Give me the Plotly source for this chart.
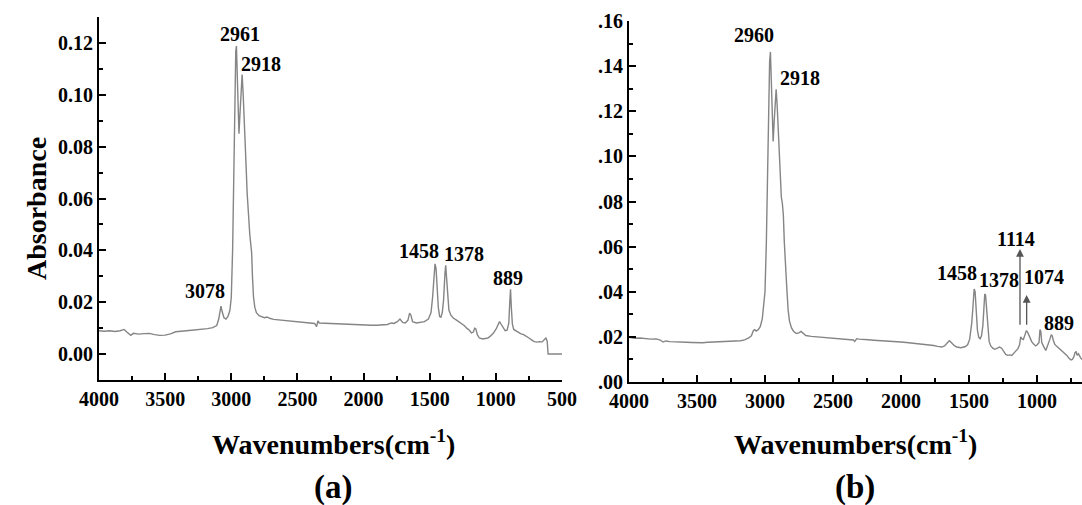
import plotly.graph_objects as go

# ---------------- data: panel (a) ----------------
wn_a = [4000, 3960, 3920, 3880, 3840, 3810, 3790, 3760, 3740, 3700, 3660, 3620, 3580, 3540, 3500,
        3460, 3420, 3380, 3340, 3300, 3260, 3220, 3180, 3140, 3110, 3095, 3085, 3078, 3070, 3055,
        3040, 3025, 3010, 3000, 2990, 2980, 2972, 2966, 2961, 2955, 2948, 2942, 2935, 2926, 2918,
        2910, 2900, 2890, 2880, 2870, 2860, 2852, 2846, 2840, 2832, 2822, 2810, 2790, 2770, 2750,
        2730, 2710, 2680, 2640, 2600, 2560, 2520, 2480, 2440, 2400, 2370, 2355, 2345, 2335, 2300,
        2260, 2220, 2180, 2140, 2100, 2060, 2020, 1980, 1940, 1900, 1860, 1820, 1790, 1770, 1745,
        1725, 1705, 1685, 1665, 1652, 1642, 1630, 1600, 1570, 1540, 1510, 1490, 1478, 1468, 1460,
        1452, 1445, 1435, 1425, 1415, 1405, 1395, 1385, 1379, 1372, 1364, 1355, 1340, 1320, 1300,
        1280, 1260, 1240, 1220, 1200, 1185, 1170, 1160, 1152, 1140, 1125, 1100, 1080, 1060, 1040,
        1020, 1000, 985, 972, 960, 945, 930, 915, 902, 895, 889, 883, 875, 865, 850,
        830, 810, 790, 770, 750, 730, 710, 690, 670, 650, 635, 622, 612, 605, 500]
abs_a = [0.0090, 0.0088, 0.0090, 0.0087, 0.0090, 0.0095, 0.0085, 0.0072, 0.0080, 0.0077, 0.0079, 0.0080, 0.0075, 0.0072, 0.0073,
         0.0078, 0.0086, 0.0089, 0.0090, 0.0092, 0.0094, 0.0095, 0.0098, 0.0102, 0.0110, 0.0135, 0.0175, 0.0185, 0.0165, 0.0140,
         0.0135, 0.0145, 0.0170, 0.0220, 0.0400, 0.0750, 0.1050, 0.1170, 0.1188, 0.1050, 0.0900, 0.0850, 0.0920, 0.1040, 0.1078,
         0.1000, 0.0900, 0.0750, 0.0620, 0.0520, 0.0460, 0.0420, 0.0390, 0.0300, 0.0220, 0.0180, 0.0160, 0.0148, 0.0143, 0.0140,
         0.0143, 0.0138, 0.0134, 0.0132, 0.0130, 0.0128, 0.0126, 0.0124, 0.0123, 0.0121, 0.0118, 0.0106, 0.0128, 0.0120, 0.0119,
         0.0118, 0.0119, 0.0118, 0.0117, 0.0115, 0.0114, 0.0113, 0.0112, 0.0111, 0.0111, 0.0112, 0.0114, 0.0120, 0.0118, 0.0125,
         0.0135, 0.0122, 0.0120, 0.0130, 0.0158, 0.0150, 0.0125, 0.0120, 0.0122, 0.0125, 0.0135, 0.0160, 0.0220, 0.0300, 0.0348,
         0.0330, 0.0250, 0.0180, 0.0145, 0.0142, 0.0160, 0.0210, 0.0310, 0.0342, 0.0290, 0.0210, 0.0170, 0.0150, 0.0138, 0.0132,
         0.0125, 0.0118, 0.0110, 0.0100, 0.0092, 0.0082, 0.0085, 0.0100, 0.0098, 0.0075, 0.0062, 0.0058, 0.0060, 0.0062, 0.0070,
         0.0080, 0.0095, 0.0115, 0.0125, 0.0115, 0.0100, 0.0090, 0.0092, 0.0120, 0.0200, 0.0250, 0.0180, 0.0115, 0.0095, 0.0090,
         0.0085, 0.0078, 0.0075, 0.0070, 0.0062, 0.0055, 0.0048, 0.0046, 0.0048, 0.0047, 0.0055, 0.0062, 0.0050, 0.0000, 0.0000]

# ---------------- data: panel (b) ----------------
wn_b = [4000, 3960, 3920, 3880, 3840, 3800, 3770, 3750, 3730, 3700, 3660, 3620, 3580, 3540, 3500,
        3460, 3420, 3380, 3340, 3300, 3260, 3220, 3180, 3150, 3120, 3100, 3085, 3075, 3065, 3050,
        3035, 3020, 3010, 3000, 2990, 2980, 2972, 2966, 2960, 2954, 2947, 2940, 2933, 2925, 2918,
        2910, 2900, 2890, 2880, 2872, 2865, 2858, 2852, 2846, 2840, 2830, 2820, 2805, 2790, 2770,
        2750, 2735, 2720, 2700, 2660, 2620, 2580, 2540, 2500, 2460, 2420, 2380, 2350, 2340, 2325,
        2310, 2280, 2240, 2200, 2160, 2120, 2080, 2040, 2000, 1960, 1920, 1880, 1840, 1800, 1760,
        1730, 1700, 1680, 1660, 1645, 1630, 1610, 1590, 1560, 1530, 1510, 1495, 1480, 1470, 1462,
        1455, 1447, 1438, 1428, 1418, 1408, 1398, 1390, 1384, 1378, 1370, 1362, 1352, 1340, 1325,
        1310, 1290, 1275, 1260, 1245, 1230, 1215, 1200, 1185, 1170, 1155, 1140, 1128, 1120, 1112,
        1100, 1088, 1078, 1068, 1055, 1040, 1025, 1010, 998, 985, 978, 972, 965, 955, 945,
        935, 925, 915, 905, 895, 888, 880, 870, 855, 840, 820, 800, 780, 765, 750,
        740, 730, 720, 712, 705, 695, 680, 669]
abs_b = [0.0198, 0.0194, 0.0195, 0.0192, 0.0190, 0.0191, 0.0186, 0.0177, 0.0182, 0.0179, 0.0177, 0.0178, 0.0176, 0.0175, 0.0174,
         0.0174, 0.0176, 0.0177, 0.0178, 0.0178, 0.0179, 0.0180, 0.0183, 0.0187, 0.0195, 0.0205, 0.0228, 0.0232, 0.0226, 0.0232,
         0.0245, 0.0280, 0.0330, 0.0400, 0.0620, 0.0950, 0.1250, 0.1420, 0.1463, 0.1300, 0.1120, 0.1066, 0.1150, 0.1260, 0.1297,
         0.1220, 0.1080, 0.0920, 0.0820, 0.0790, 0.0740, 0.0620, 0.0540, 0.0520, 0.0420, 0.0320, 0.0270, 0.0240, 0.0225, 0.0215,
         0.0218, 0.0224, 0.0215, 0.0206, 0.0202, 0.0200, 0.0198, 0.0196, 0.0195, 0.0193, 0.0191, 0.0189, 0.0186, 0.0180, 0.0192,
         0.0190, 0.0190, 0.0187, 0.0185, 0.0184, 0.0182, 0.0180, 0.0179, 0.0177, 0.0175, 0.0173, 0.0171, 0.0168, 0.0165, 0.0162,
         0.0158, 0.0155, 0.0160, 0.0172, 0.0183, 0.0175, 0.0162, 0.0155, 0.0152, 0.0156, 0.0165, 0.0190, 0.0260, 0.0340, 0.0412,
         0.0400, 0.0310, 0.0230, 0.0198, 0.0192, 0.0205, 0.0250, 0.0330, 0.0390, 0.0385, 0.0310, 0.0230, 0.0180, 0.0160, 0.0150,
         0.0145, 0.0150, 0.0155, 0.0150, 0.0138, 0.0122, 0.0118, 0.0120, 0.0118, 0.0128, 0.0142, 0.0148, 0.0165, 0.0200, 0.0192,
         0.0188, 0.0210, 0.0228, 0.0220, 0.0200, 0.0180, 0.0168, 0.0160, 0.0165, 0.0175, 0.0232, 0.0225, 0.0175, 0.0160, 0.0150,
         0.0140, 0.0155, 0.0170, 0.0190, 0.0210, 0.0205, 0.0185, 0.0168, 0.0158, 0.0150, 0.0140, 0.0130, 0.0118, 0.0105, 0.0098,
         0.0100, 0.0110, 0.0130, 0.0135, 0.0118, 0.0125, 0.0108, 0.0100]

# ---------------- peak labels ----------------
labels_a = ["2961", "2918", "3078", "1458", "1378", "889"]
label_a_x = [2937, 2776, 3198, 1584, 1242, 911]
label_a_y = [0.1236, 0.1120, 0.0245, 0.0399, 0.0386, 0.0292]

labels_b = ["2960", "2918", "1458", "1378", "1114", "1074", "889"]
label_b_x = [3080, 2745, 1588, 1279, 1154, 949, 838]
label_b_y = [0.1537, 0.1346, 0.0483, 0.0452, 0.0634, 0.0467, 0.0262]

arrow_b_x = [1125, 1076]
arrow_b_tail = [0.0245, 0.0245]
arrow_b_head = [0.0590, 0.0386]

yticks_a = [0.00, 0.02, 0.04, 0.06, 0.08, 0.10, 0.12]
yticktext_a = ["0.00", "0.02", "0.04", "0.06", "0.08", "0.10", "0.12"]
yticks_b = [0.00, 0.02, 0.04, 0.06, 0.08, 0.10, 0.12, 0.14, 0.16]
yticktext_b = [".00", ".02", ".04", ".06", ".08", ".10", ".12", ".14", ".16"]

FONT = "Liberation Serif"
LINE = "#858585"

fig = go.Figure()
fig.add_trace(go.Scatter(x=wn_a, y=abs_a, mode="lines", line=dict(color=LINE, width=1.4),
                         xaxis="x", yaxis="y", showlegend=False, hoverinfo="skip"))
fig.add_trace(go.Scatter(x=wn_b, y=abs_b, mode="lines", line=dict(color=LINE, width=1.4),
                         xaxis="x2", yaxis="y2", showlegend=False, hoverinfo="skip"))

tickfont = dict(family=FONT, size=20, color="black", weight="bold")
axis_common = dict(showline=True, linecolor="black", linewidth=2, showgrid=False, zeroline=False,
                   automargin=False,
                   ticks="inside", ticklen=7, tickwidth=2, tickcolor="black", tickfont=tickfont)

fig.update_layout(
    width=1082, height=505,
    margin=dict(l=0, r=0, t=0, b=0),
    paper_bgcolor="white", plot_bgcolor="white",
    xaxis=dict(domain=[99/1082, 562/1082], range=[4000, 500], anchor="y",
               tick0=500, dtick=500,
               minor=dict(dtick=250, ticks="inside", ticklen=4, tickwidth=2, tickcolor="black"),
               **axis_common),
    yaxis=dict(domain=[1-380/505, 1-17/505], range=[-0.01, 0.13], anchor="x",
               tickvals=yticks_a, ticktext=yticktext_a,
               minor=dict(dtick=0.01, tick0=0, ticks="inside", ticklen=4, tickwidth=2, tickcolor="black"),
               **axis_common),
    xaxis2=dict(domain=[629/1082, 1.0], range=[4000, 669], anchor="y2",
                tick0=500, dtick=500,
                minor=dict(dtick=250, ticks="inside", ticklen=4, tickwidth=2, tickcolor="black"),
                **axis_common),
    yaxis2=dict(domain=[1-382/505, 1-21/505], range=[0, 0.16], anchor="x2",
                tickvals=yticks_b, ticktext=yticktext_b,
                minor=dict(dtick=0.01, tick0=0, ticks="inside", ticklen=4, tickwidth=2, tickcolor="black"),
                **axis_common),
)

annfont = dict(family=FONT, size=20, color="black", weight="bold")
anns = []
for t, x, y in zip(labels_a, label_a_x, label_a_y):
    anns.append(dict(text=t, x=x, y=y, xref="x", yref="y", showarrow=False, font=annfont))
for t, x, y in zip(labels_b, label_b_x, label_b_y):
    anns.append(dict(text=t, x=x, y=y, xref="x2", yref="y2", showarrow=False, font=annfont))
for x, yt, yh in zip(arrow_b_x, arrow_b_tail, arrow_b_head):
    anns.append(dict(text=" ", x=x, y=yh, ax=x, ay=yt, xref="x2", yref="y2", axref="x2", ayref="y2",
                     showarrow=True, arrowhead=2, arrowsize=1.2, arrowwidth=1.3, arrowcolor="#555555",
                     standoff=0, startstandoff=0, font=dict(size=1)))

titlefont = dict(family=FONT, size=28, color="black", weight="bold")
center = dict(xref="paper", yref="paper", xanchor="center", yanchor="middle", showarrow=False)
anns.append(dict(text="Absorbance", x=37/1082, y=1-209/505, textangle=-90, font=titlefont, **center))
anns.append(dict(text="Wavenumbers(cm<sup>-1</sup>)", x=333/1082, y=1-442/505, font=titlefont, **center))
anns.append(dict(text="Wavenumbers(cm<sup>-1</sup>)", x=855/1082, y=1-442/505, font=titlefont, **center))
panelfont = dict(family=FONT, size=33, color="black", weight="bold")
anns.append(dict(text="(a)", x=333/1082, y=1-487/505, font=panelfont, **center))
anns.append(dict(text="(b)", x=855/1082, y=1-487/505, font=panelfont, **center))
fig.update_layout(annotations=anns)

fig.write_html("out.html", config={"displayModeBar": False},
               post_script="document.body.style.margin='0';")
